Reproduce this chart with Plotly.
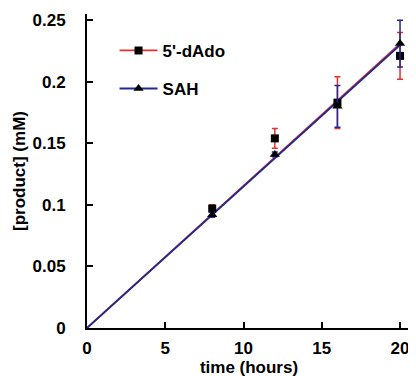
import plotly.graph_objects as go
import numpy as np

time_h = [8, 12, 16, 20]
dado = [0.097, 0.154, 0.183, 0.221]
dado_err = [0.003, 0.008, 0.021, 0.019]
sah = [0.092, 0.141, 0.180, 0.231]
sah_err = [0.002, 0.002, 0.017, 0.019]

RED = "#e4312b"
BLUE = "#1f2b8f"
FONT = "Liberation Sans"

def fit_slope(x, y):
    x = np.asarray(x, float); y = np.asarray(y, float)
    return float((x * y).sum() / (x * x).sum())

fit_x = [0, 20]
fig = go.Figure()

# fit lines
for y, col in ((dado, RED), (sah, BLUE)):
    k = fit_slope(time_h, y)
    fig.add_trace(go.Scatter(x=fit_x, y=[k * v for v in fit_x], mode="lines",
                             line=dict(color=col, width=1.8), showlegend=False,
                             hoverinfo="skip"))

# data with error bars
fig.add_trace(go.Scatter(x=time_h, y=dado, mode="markers",
                         marker=dict(symbol="square", size=8, color="black"),
                         error_y=dict(type="data", array=dado_err, color=RED,
                                      thickness=1.5, width=3),
                         showlegend=False))
fig.add_trace(go.Scatter(x=time_h, y=sah, mode="markers",
                         marker=dict(symbol="triangle-up", size=9, color="black"),
                         error_y=dict(type="data", array=sah_err, color=BLUE,
                                      thickness=1.5, width=3),
                         showlegend=False))

# legend entries
fig.add_trace(go.Scatter(x=[None], y=[None], mode="lines+markers", name="5'-dAdo",
                         line=dict(color=RED, width=1.8), legendgroup="a",
                         marker=dict(symbol="square", size=8, color="black")))
fig.add_trace(go.Scatter(x=[None], y=[None], mode="lines+markers", name="SAH",
                         line=dict(color=BLUE, width=1.8), legendgroup="b",
                         marker=dict(symbol="triangle-up", size=9, color="black")))

fig.update_layout(
    width=416, height=376,
    margin=dict(l=79, r=13, t=6, b=56),
    paper_bgcolor="white", plot_bgcolor="white",
    font=dict(family=FONT, size=17, color="black", weight="bold"),
    showlegend=True,
    legend=dict(x=0.085, y=0.94, xanchor="left", yanchor="top",
                bgcolor="rgba(0,0,0,0)", tracegroupgap=13, itemwidth=38,
                font=dict(family=FONT, size=17, color="black", weight="bold")),
)
fig.update_xaxes(range=[0, 20.7], tickvals=[0, 5, 10, 15, 20],
                 ticktext=["0", "5", "10", "15", "20"], automargin=False,
                 showline=True, linecolor="black", linewidth=2,
                 ticks="inside", ticklen=6, tickwidth=2, tickcolor="black",
                 showgrid=False, zeroline=False, ticklabelstandoff=4,
                 title=dict(text="time (hours)", standoff=0,
                            font=dict(family=FONT, size=17, weight="bold")))
fig.update_yaxes(range=[0, 0.255], tickvals=[0, 0.05, 0.1, 0.15, 0.2, 0.25],
                 ticktext=["0", "0.05", "0.1", "0.15", "0.2", "0.25"], automargin=False,
                 showline=True, linecolor="black", linewidth=2,
                 ticks="inside", ticklen=6, tickwidth=2, tickcolor="black",
                 showgrid=False, zeroline=False, ticklabelstandoff=16,
                 title=dict(text="[product] (mM)", standoff=3,
                            font=dict(family=FONT, size=17, weight="bold")))

fig.write_html("out.html")
